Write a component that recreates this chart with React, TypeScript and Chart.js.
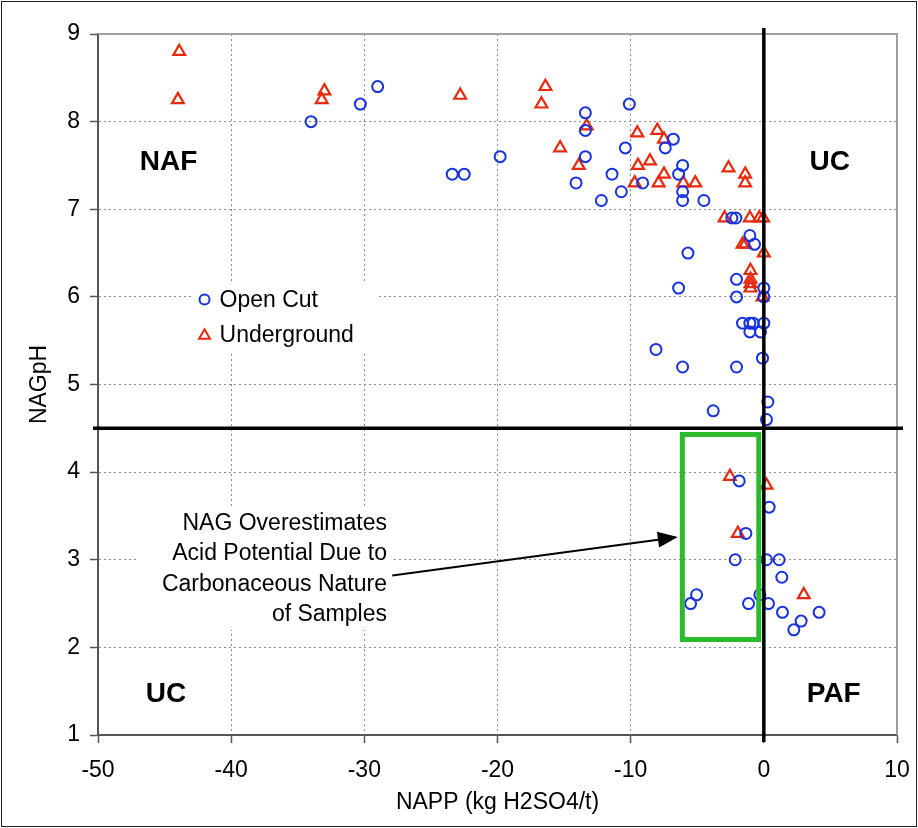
import React, { useEffect, useRef } from "react";
import { Chart, registerables } from "chart.js";

Chart.register(...registerables);

// ---------------- data ----------------
const openCutX = [
  -34.0, -30.3, -29.0, -13.4, -10.1, -13.4, -19.8, -23.4, -22.5, -13.4,
  -14.1, -12.2, -11.4, -10.7, -10.4, -6.8, -7.4, -6.1, -6.4, -9.1,
  -6.1, -6.1, -4.5, -2.4, -2.1, -1.05, -0.7, -5.7, -2.05, 0.0,
  0.0, -6.4, -2.05, -1.6, -1.05, -0.8, 0.0, -1.05, -0.25, -8.1,
  -0.1, -6.1, -2.05, 0.3, -3.8, 0.2, -1.85, 0.4, -1.35, -2.15,
  0.2, 1.15, 1.35, -5.05, -5.5, -0.3, -1.15, 0.35, 1.4, 2.8,
  2.25, 4.15,
];
const openCutY = [
  8.0, 8.2, 8.4, 8.1, 8.2, 7.9, 7.6, 7.4, 7.4, 7.6,
  7.3, 7.1, 7.4, 7.2, 7.7, 7.8, 7.7, 7.5, 7.4, 7.3,
  7.2, 7.1, 7.1, 6.9, 6.9, 6.7, 6.6, 6.5, 6.2, 6.1,
  6.0, 6.1, 6.0, 5.7, 5.7, 5.7, 5.7, 5.6, 5.6, 5.4,
  5.3, 5.2, 5.2, 4.8, 4.7, 4.6, 3.9, 3.6, 3.3, 3.0,
  3.0, 3.0, 2.8, 2.6, 2.5, 2.6, 2.5, 2.5, 2.4, 2.3,
  2.2, 2.4,
];
const undergroundX = [
  -43.9, -44.0, -33.0, -33.2, -22.8, -16.4, -16.7, -13.3, -15.3, -13.9,
  -9.5, -8.0, -7.5, -9.45, -8.55, -7.5, -9.7, -7.9, -6.05, -5.15,
  -2.65, -1.4, -1.4, -2.95, -1.05, -0.35, -0.05, -1.6, -1.4, 0.0,
  -1.0, -1.0, -1.0, -1.0, -0.1, -2.55, 0.2, -1.95, 3.0,
];
const undergroundY = [
  8.8, 8.25, 8.35, 8.25, 8.3, 8.4, 8.2, 7.95, 7.7, 7.5,
  7.87, 7.9, 7.8, 7.5, 7.55, 7.4, 7.3, 7.3, 7.3, 7.3,
  7.47, 7.4, 7.3, 6.9, 6.9, 6.9, 6.9, 6.6, 6.6, 6.5,
  6.3, 6.2, 6.15, 6.1, 6.0, 3.95, 3.85, 3.3, 2.6,
];

const seriesNames = ["Open Cut", "Underground"];
const xTickValues = [-50, -40, -30, -20, -10, 0, 10];
const yTickValues = [1, 2, 3, 4, 5, 6, 7, 8, 9];
const xTitle = "NAPP (kg H2SO4/t)";
const yTitle = "NAGpH";
const noteLines = [
  "NAG Overestimates",
  "Acid Potential Due to",
  "Carbonaceous Nature",
  "of Samples",
];
const quadrantLabels = [
  { text: "NAF", x: -44.7, y: 7.54 },
  { text: "UC", x: 4.95, y: 7.54 },
  { text: "UC", x: -44.9, y: 1.47 },
  { text: "PAF", x: 5.25, y: 1.47 },
];
const napp0 = 0;
const nagph45 = 4.5;
const boxX = [-6.12, -0.38];
const boxY = [2.09, 4.43];
const arrowFrom = { x: -27.9, y: 2.82 };
const arrowTo = { x: -6.46, y: 3.26 };

const FONT = "'Liberation Sans', Arial, Helvetica, sans-serif";
const FS = 23;
const BLUE = "#1632e0";
const RED = "#e8290b";

function toPts(xs: number[], ys: number[]) {
  return xs.map((x, i) => ({ x, y: ys[i] }));
}

function triPath(ctx: CanvasRenderingContext2D, cx: number, cy: number, r: number) {
  ctx.beginPath();
  for (let k = 0; k < 3; k++) {
    const a = (k * 2 * Math.PI) / 3;
    const px = cx + Math.sin(a) * r;
    const py = cy - Math.cos(a) * r;
    if (k === 0) ctx.moveTo(px, py);
    else ctx.lineTo(px, py);
  }
  ctx.closePath();
}

const overlayPlugin = {
  id: "overlay",
  beforeDatasetsDraw(chart: any) {
    const { ctx, chartArea: ca, scales } = chart;
    const xs = scales.x;
    const ys = scales.y;
    ctx.save();
    // top & right frame of plot
    ctx.strokeStyle = "#a0a0a0";
    ctx.lineWidth = 2;
    ctx.beginPath();
    ctx.moveTo(ca.left, ca.top);
    ctx.lineTo(ca.right, ca.top);
    ctx.lineTo(ca.right, ca.bottom);
    ctx.stroke();

    // legend
    const lx = xs.getPixelForValue(-42);
    const ly = ys.getPixelForValue(5.97);
    ctx.fillStyle = "#fff";
    ctx.fillRect(lx - 13, ly - 17, 185, 70);
    ctx.lineWidth = 2;
    ctx.strokeStyle = BLUE;
    ctx.beginPath();
    ctx.arc(lx, ly, 5, 0, Math.PI * 2);
    ctx.stroke();
    ctx.strokeStyle = RED;
    triPath(ctx, lx, ly + 36, 6.3);
    ctx.stroke();
    ctx.fillStyle = "#000";
    ctx.font = `${FS}px ${FONT}`;
    ctx.textAlign = "left";
    ctx.textBaseline = "middle";
    ctx.fillText(seriesNames[0], lx + 15, ly + 1);
    ctx.fillText(seriesNames[1], lx + 15, ly + 36);

    // note text
    const nx = xs.getPixelForValue(-28.3);
    const ny = ys.getPixelForValue(3.41);
    ctx.fillStyle = "#fff";
    ctx.fillRect(nx - 250, ny - 16, 255, 122);
    ctx.fillStyle = "#000";
    ctx.textAlign = "right";
    noteLines.forEach((t, i) => ctx.fillText(t, nx, ny + i * 30.2));

    // quadrant labels
    ctx.font = `bold 28px ${FONT}`;
    ctx.textAlign = "center";
    quadrantLabels.forEach((q) => {
      ctx.fillText(q.text, xs.getPixelForValue(q.x), ys.getPixelForValue(q.y));
    });
    ctx.restore();
  },
  afterDatasetsDraw(chart: any) {
    const { ctx, chartArea: ca, scales } = chart;
    const xs = scales.x;
    const ys = scales.y;
    ctx.save();
    // green box
    ctx.strokeStyle = "#2cb92c";
    ctx.lineWidth = 5;
    const gx1 = xs.getPixelForValue(boxX[0]);
    const gx2 = xs.getPixelForValue(boxX[1]);
    const gy1 = ys.getPixelForValue(boxY[1]);
    const gy2 = ys.getPixelForValue(boxY[0]);
    ctx.strokeRect(gx1, gy1, gx2 - gx1, gy2 - gy1);

    // black boundary lines
    ctx.strokeStyle = "#000";
    ctx.lineWidth = 3.5;
    const vx = xs.getPixelForValue(napp0);
    ctx.beginPath();
    ctx.moveTo(vx, ca.top - 6);
    ctx.lineTo(vx, ca.bottom + 7);
    ctx.stroke();
    const hy = ys.getPixelForValue(nagph45);
    ctx.beginPath();
    ctx.moveTo(ca.left - 5, hy);
    ctx.lineTo(ca.right + 6, hy);
    ctx.stroke();

    // arrow
    const ax1 = xs.getPixelForValue(arrowFrom.x);
    const ay1 = ys.getPixelForValue(arrowFrom.y);
    const ax2 = xs.getPixelForValue(arrowTo.x);
    const ay2 = ys.getPixelForValue(arrowTo.y);
    const ang = Math.atan2(ay2 - ay1, ax2 - ax1);
    const hl = 20;
    const hw = 8;
    const bx = ax2 - Math.cos(ang) * hl;
    const by = ay2 - Math.sin(ang) * hl;
    ctx.lineWidth = 2;
    ctx.beginPath();
    ctx.moveTo(ax1, ay1);
    ctx.lineTo(bx, by);
    ctx.stroke();
    ctx.fillStyle = "#000";
    ctx.beginPath();
    ctx.moveTo(ax2, ay2);
    ctx.lineTo(bx - Math.sin(ang) * hw, by + Math.cos(ang) * hw);
    ctx.lineTo(bx + Math.sin(ang) * hw, by - Math.cos(ang) * hw);
    ctx.closePath();
    ctx.fill();
    ctx.restore();
  },
  afterDraw(chart: any) {
    const { ctx, width, height } = chart;
    ctx.save();
    ctx.strokeStyle = "#222";
    ctx.lineWidth = 1;
    ctx.strokeRect(1.5, 1.5, width - 3, height - 3);
    ctx.restore();
  },
};

export default function App() {
  const ref = useRef<HTMLCanvasElement | null>(null);

  useEffect(() => {
    if (!ref.current) return;
    const chart = new Chart(ref.current, {
      type: "scatter",
      data: {
        datasets: [
          {
            label: seriesNames[0],
            data: toPts(openCutX, openCutY),
            pointStyle: "circle",
            pointRadius: 5.5,
            pointBorderWidth: 2,
            borderColor: BLUE,
            backgroundColor: "rgba(0,0,0,0)",
            showLine: false,
          },
          {
            label: seriesNames[1],
            data: toPts(undergroundX, undergroundY),
            pointStyle: "triangle",
            pointRadius: 6.8,
            pointBorderWidth: 2.2,
            borderColor: RED,
            backgroundColor: "rgba(0,0,0,0)",
            showLine: false,
          },
        ],
      },
      options: {
        responsive: false,
        animation: false,
        devicePixelRatio: 1,
        layout: { padding: { top: 34, right: 21, left: 0, bottom: 0 } },
        plugins: {
          legend: { display: false },
          tooltip: { enabled: false },
        },
        events: [],
        scales: {
          x: {
            type: "linear",
            min: xTickValues[0],
            max: xTickValues[xTickValues.length - 1],
            afterBuildTicks: (s: any) => {
              s.ticks = xTickValues.map((v) => ({ value: v }));
            },
            ticks: {
              color: "#000",
              font: { size: FS, family: FONT },
              padding: 14,
              maxRotation: 0,
              autoSkip: false,
            },
            grid: {
              color: "#8a8a8a",
              lineWidth: 1,
              tickLength: 8,
              tickColor: "#555",
              tickWidth: 1.5,
            },
            border: { display: true, color: "#555", width: 2, dash: [2, 3] },
            title: {
              display: true,
              text: xTitle,
              color: "#000",
              font: { size: FS, family: FONT },
              padding: { top: 0, bottom: 12 },
            },
            afterFit: (s: any) => {
              s.height = 93;
              s.paddingLeft = 0;
              s.paddingRight = 0;
            },
          },
          y: {
            type: "linear",
            min: yTickValues[0],
            max: yTickValues[yTickValues.length - 1],
            afterBuildTicks: (s: any) => {
              s.ticks = yTickValues.map((v) => ({ value: v }));
            },
            ticks: {
              color: "#000",
              font: { size: FS, family: FONT },
              padding: 10,
              autoSkip: false,
            },
            grid: {
              color: "#8a8a8a",
              lineWidth: 1,
              tickLength: 8,
              tickColor: "#555",
              tickWidth: 1.5,
            },
            border: { display: true, color: "#555", width: 2, dash: [2, 3] },
            title: {
              display: true,
              text: yTitle,
              color: "#000",
              font: { size: FS, family: FONT },
              padding: { top: 26, bottom: 0 },
            },
            afterFit: (s: any) => {
              s.width = 98;
              s.paddingTop = 0;
              s.paddingBottom = 0;
            },
          },
        },
      },
      plugins: [overlayPlugin],
    } as any);
    return () => chart.destroy();
  }, []);

  return (
    <div
      style={{
        position: "absolute",
        left: 0,
        top: 0,
        width: 918,
        height: 828,
        background: "#fff",
      }}
    >
      <canvas ref={ref} width={918} height={828} style={{ width: 918, height: 828, display: "block" }} />
    </div>
  );
}
